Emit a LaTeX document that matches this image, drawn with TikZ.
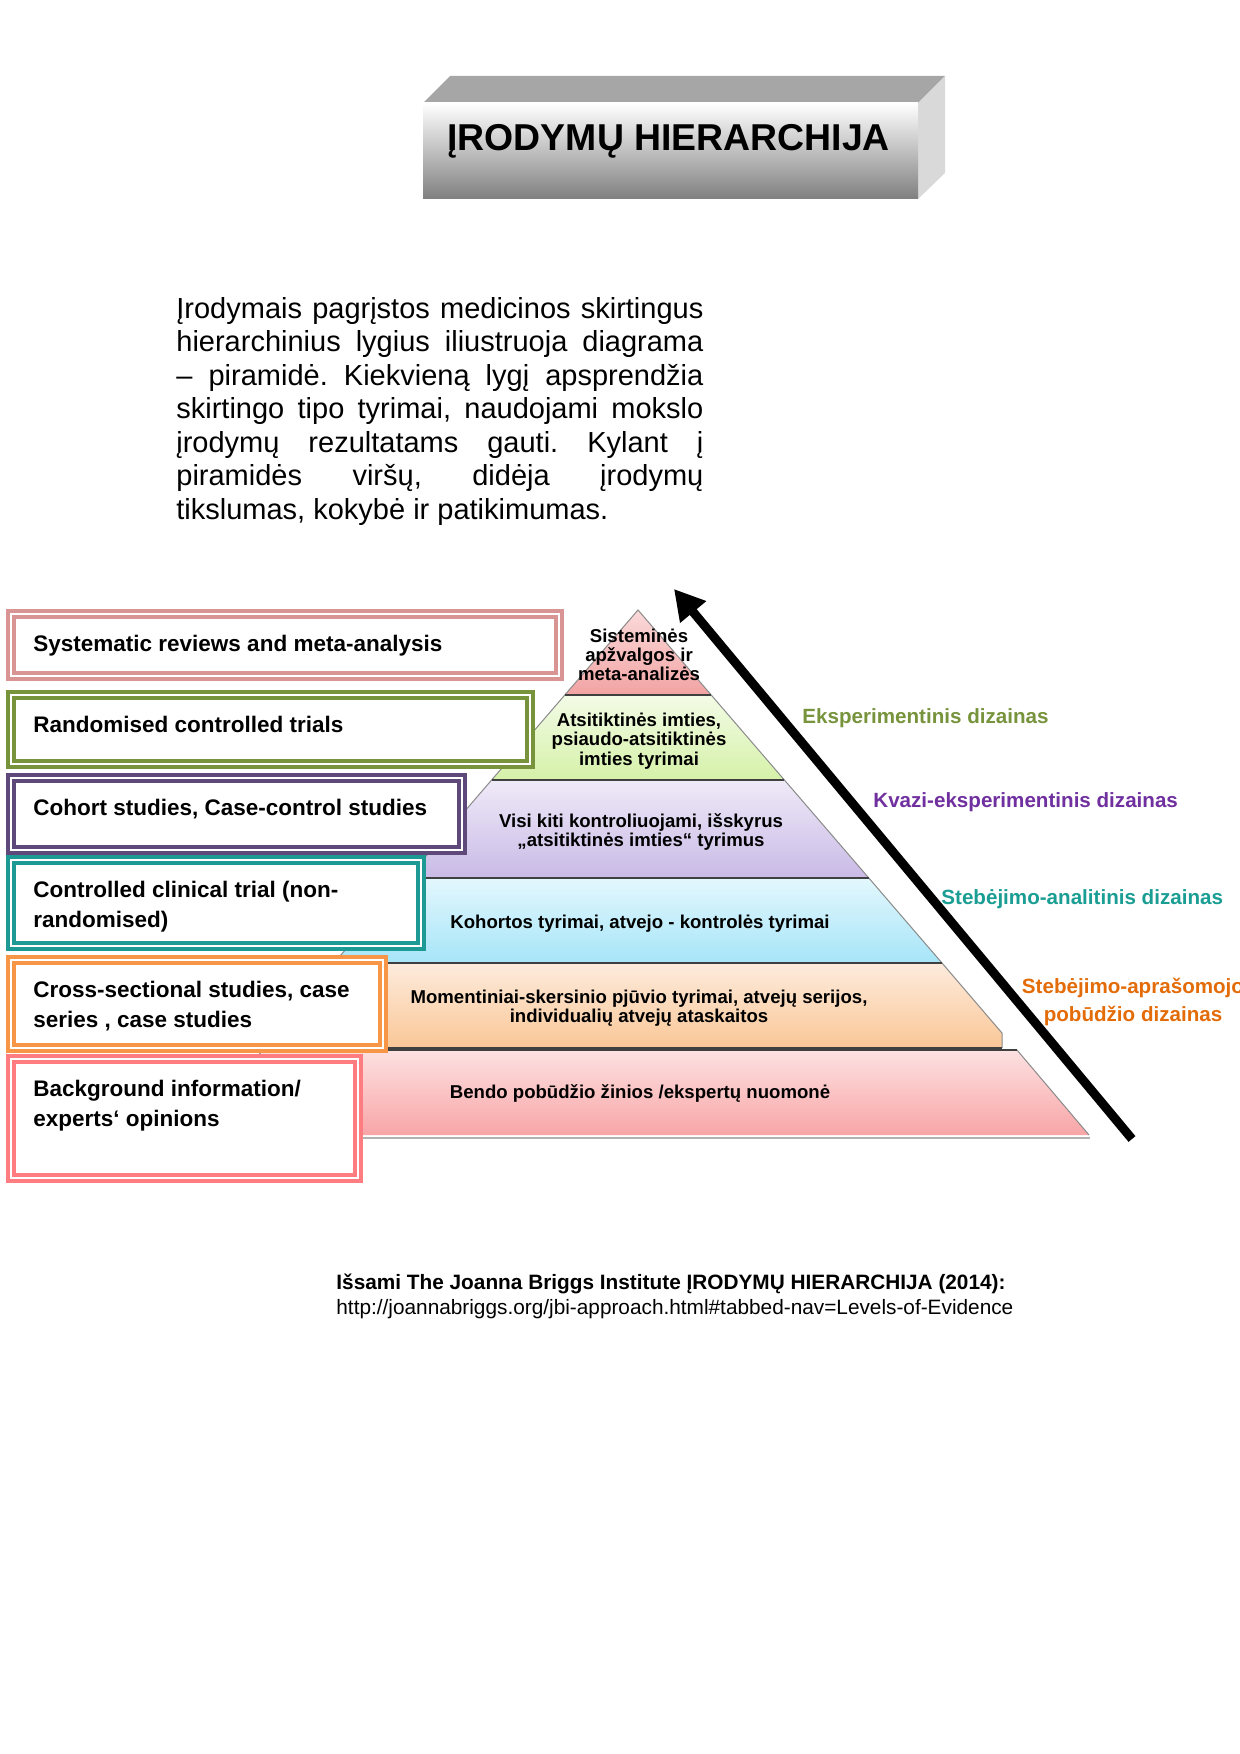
\documentclass[tikz,border=0pt]{standalone}
\usepackage{fontspec}
\setmainfont{Liberation Sans}
\usetikzlibrary{arrows.meta}
\definecolor{cRose}{HTML}{D99594}
\definecolor{cOlive}{HTML}{77933C}
\definecolor{cPlum}{HTML}{5F497A}
\definecolor{cTeal}{HTML}{1C9A93}
\definecolor{cOrange}{HTML}{F79646}
\definecolor{cSalmon}{HTML}{FF7C80}
\definecolor{lGreen}{HTML}{77933C}
\definecolor{lPurple}{HTML}{7030A0}
\definecolor{lTeal}{HTML}{1A9E94}
\definecolor{lOrange}{HTML}{E36C09}
\definecolor{sepC}{HTML}{404040}
\definecolor{edgeC}{HTML}{8A8A8A}
\definecolor{aTop}{HTML}{FBDADA}\definecolor{aBot}{HTML}{F2A3A3}
\definecolor{bTop}{HTML}{F3FBE6}\definecolor{bBot}{HTML}{D5F1A8}
\definecolor{cTop}{HTML}{EFEAF8}\definecolor{cBot}{HTML}{C9BAE6}
\definecolor{dTop}{HTML}{E3F7FD}\definecolor{dBot}{HTML}{A6E5F8}
\definecolor{eTop}{HTML}{FDEBDD}\definecolor{eBot}{HTML}{FAC796}
\definecolor{fTop}{HTML}{FDE1E1}\definecolor{fBot}{HTML}{F8A5A7}
\begin{document}
\begin{tikzpicture}[x=0.5pt,y=-0.5pt,
  lbox/.style={rectangle, draw=#1, fill=white, line width=2.2pt, double=white, double distance=0.7pt, inner sep=0pt, outer sep=0pt},
  btext/.style={anchor=north west, inner sep=0pt, align=left, font=\bfseries\fontsize{11.25}{15}\selectfont},
  ptext/.style={align=center, inner sep=0pt, font=\bfseries\fontsize{9.3}{9.6}\selectfont},
  side/.style={inner sep=0pt, font=\bfseries\fontsize{10.3}{14}\selectfont},
  sepline/.style={draw=sepC, line width=0.7pt},
  edgeline/.style={draw=edgeC, line width=0.5pt}]
\useasboundingbox[fill=white] (0,0) rectangle (1240,1754);

% ---- title block ----
\fill[black!35] (423,103) -- (450,76) -- (945,76) -- (918,103) -- cycle;
\fill[black!15] (918,103) -- (945,76) -- (945,173) -- (918,199) -- cycle;
\shade[top color=white, middle color=black!8, bottom color=black!50] (423,103) rectangle (918,199);
\node[anchor=base west, inner sep=0pt, font=\bfseries\fontsize{18.7}{20}\selectfont] (title) at (447,151) {ĮRODYMŲ HIERARCHIJA};

% ---- paragraph ----
\node[anchor=north west, inner sep=0pt, text width=263.5pt, align=justify, font=\fontsize{14.5}{16.75}\selectfont\frenchspacing] (para) at (176,297)
{Įrodymais pagrįstos medicinos skirtingus\linebreak
hierarchinius lygius iliustruoja diagrama\linebreak
– piramidė. Kiekvieną lygį apsprendžia\linebreak
skirtingo tipo tyrimai, naudojami mokslo\linebreak
įrodymų rezultatams gauti. Kylant į\linebreak
piramidės viršų, didėja įrodymų\linebreak
tikslumas, kokybė ir patikimumas.};

% ---- pyramid layers ----
\shade[top color=aTop, bottom color=aBot] (638,610) -- (711,695) -- (565,695) -- cycle;
\shade[top color=bTop, bottom color=bBot] (565,695) -- (711,695) -- (784,780) -- (492,780) -- cycle;
\shade[top color=cTop, bottom color=cBot] (492,780) -- (784,780) -- (868.5,878) -- (407.5,878) -- cycle;
\shade[top color=dTop, bottom color=dBot] (407.5,878) -- (868.5,878) -- (942,963) -- (334,963) -- cycle;
\shade[top color=eTop, bottom color=eBot] (334,963) -- (942,963) -- (1002,1033) -- (1002,1048) -- (261,1048) -- cycle;
\shade[top color=fTop, bottom color=fBot] (263,1050) -- (1017,1050) -- (1089,1135) -- (188,1135) -- cycle;
\draw[black!30, line width=1.2pt] (190,1138) -- (1090,1138);
% edges
\draw[edgeline] (334,963) -- (638,610) -- (942,963);
\draw[edgeline] (942,963) -- (1002,1033) -- (1002,1048);
\draw[edgeline] (261,1048) -- (334,963);
\draw[edgeline] (188,1135) -- (263,1050);
\draw[edgeline] (1017,1050) -- (1089,1135);
% separators
\draw[sepline] (565,695) -- (711,695);
\draw[sepline] (492,780) -- (784,780);
\draw[sepline] (407.5,878) -- (868.5,878);
\draw[sepline] (334,963) -- (942,963);
\draw[sepline] (261,1048) -- (1002,1048);
\draw[sepline] (263,1050) -- (1017,1050);

% ---- pyramid texts ----
\node[ptext] (p1) at (639,655) {Sisteminės\\apžvalgos ir\\meta-analizės};
\node[ptext] (p2) at (639,741) {Atsitiktinės imties,\\psiaudo-atsitiktinės\\imties tyrimai};
\node[ptext] (p3) at (641,832) {Visi kiti kontroliuojami, išskyrus\\„atsitiktinės imties“ tyrimus};
\node[ptext] (p4) at (640,924) {Kohortos tyrimai, atvejo - kontrolės tyrimai};
\node[ptext] (p5) at (639,1008) {Momentiniai-skersinio pjūvio tyrimai, atvejų serijos,\\individualių atvejų ataskaitos};
\node[ptext] (p6) at (640,1093) {Bendo pobūdžio žinios /ekspertų nuomonė};

% ---- left boxes ----
\node[lbox=cRose, minimum width=274pt, minimum height=31pt] (b1) at (285,645) {};
\node[lbox=cOlive, minimum width=259.5pt, minimum height=34.5pt] (b2) at (270.5,729.5) {};
\node[lbox=cPlum, minimum width=225.5pt, minimum height=36pt] (b3) at (236.5,814) {};
\node[lbox=cTeal, minimum width=205pt, minimum height=43pt] (b4) at (216,903) {};
\node[lbox=cOrange, minimum width=186pt, minimum height=44pt] (b5) at (197,1004) {};
\node[lbox=cSalmon, minimum width=173.5pt, minimum height=59.5pt] (b6) at (184.5,1118.5) {};

\node[btext] (t1) at ([shift={(22,21)}]b1.north west) {Systematic reviews and meta-analysis};
\node[btext] (t2) at ([shift={(22,21)}]b2.north west) {Randomised controlled trials};
\node[btext] (t3) at ([shift={(22,21)}]b3.north west) {Cohort studies, Case-control studies};
\node[btext] (t4) at ([shift={(22,21)}]b4.north west) {Controlled clinical trial (non-\\randomised)};
\node[btext] (t5) at ([shift={(22,21)}]b5.north west) {Cross-sectional studies, case\\series , case studies};
\node[btext] (t6) at ([shift={(22,21)}]b6.north west) {Background information/\\experts‘ opinions};

% ---- arrow ----
\coordinate (arrTail) at (1132,1139);
\coordinate (arrTip) at (674,589);
\draw[line width=4.5pt, -{Triangle[length=15pt,width=16pt]}] (arrTail) -- (arrTip);

% ---- side labels ----
\node[side, text=lGreen, anchor=west] (s1) at (802,718) {Eksperimentinis dizainas};
\node[side, text=lPurple, anchor=west] (s2) at (873,802) {Kvazi-eksperimentinis dizainas};
\node[side, text=lTeal, anchor=west] (s3) at (941,899) {Stebėjimo-analitinis dizainas};
\node[side, text=lOrange, align=center] (s4) at (1133,1002) {Stebėjimo-aprašomojo\\pobūdžio dizainas};

% ---- footer ----
\node[anchor=north west, inner sep=0pt, align=left, font=\fontsize{10.4}{12.5}\selectfont] (foot) at (336,1274)
{{\bfseries Išsami The Joanna Briggs Institute ĮRODYMŲ HIERARCHIJA (2014):}\\http://joannabriggs.org/jbi-approach.html\#tabbed-nav=Levels-of-Evidence};
\end{tikzpicture}
\end{document}
